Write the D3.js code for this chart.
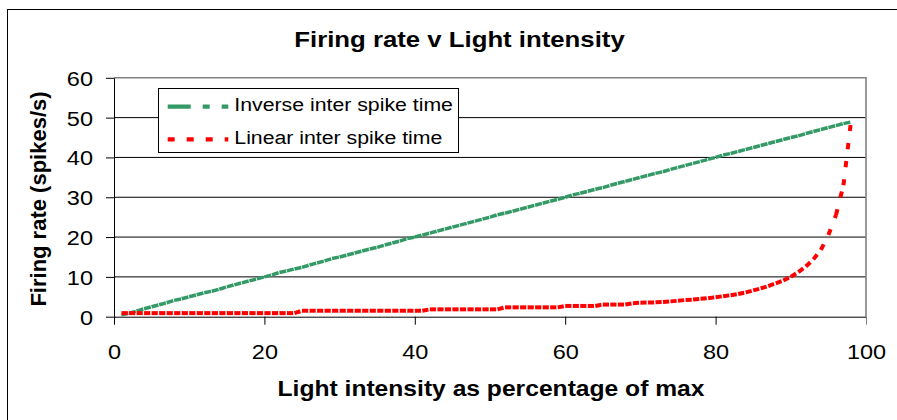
<!DOCTYPE html>
<html>
<head>
<meta charset="utf-8">
<script src="https://cdn.jsdelivr.net/npm/d3@7"></script>
<style>
  html, body { margin: 0; padding: 0; background: #fff; }
  svg { display: block; }
  text { font-family: "Liberation Sans", Arial, sans-serif; fill: #000; }
</style>
</head>
<body>
<svg id="chart" width="897" height="420"></svg>
<script>
// ---------------- data ----------------
const chartTitle = "Firing rate v Light intensity";
const xTitle = "Light intensity as percentage of max";
const yTitle = "Firing rate (spikes/s)";
const seriesNames = ["Inverse inter spike time", "Linear inter spike time"];
const xTicks = [0, 20, 40, 60, 80, 100];
const yTicks = [0, 10, 20, 30, 40, 50, 60];

const lightIntensity = [
  1,2,3,4,5,6,7,8,9,10,11,12,13,14,15,16,17,18,19,20,
  21,22,23,24,25,26,27,28,29,30,31,32,33,34,35,36,37,38,39,40,
  41,42,43,44,45,46,47,48,49,50,51,52,53,54,55,56,57,58,59,60,
  61,62,63,64,65,66,67,68,69,70,71,72,73,74,75,76,77,78,79,80,
  81,82,83,84,85,86,87,88,89,90,91,92,93,94,95,96,97,98
];
const inverseRate = [
  0.5,0.9,1.4,2.0,2.5,3.0,3.5,4.1,4.5,5.0,5.5,6.0,6.4,6.9,7.5,8.0,8.5,9.0,9.5,10.0,
  10.5,11.1,11.5,12.0,12.4,13.0,13.5,14.0,14.6,15.0,15.5,16.0,16.5,17.0,17.4,18.0,18.5,19.0,19.6,20.0,
  20.5,21.0,21.5,22.0,22.5,23.0,23.5,24.0,24.5,25.0,25.6,26.0,26.5,27.0,27.5,28.0,28.5,29.0,29.5,30.0,
  30.6,31.0,31.5,32.0,32.4,33.0,33.5,34.0,34.5,35.0,35.5,36.0,36.4,37.0,37.5,38.0,38.5,39.0,39.5,40.0,
  40.6,41.0,41.5,42.0,42.5,43.0,43.5,44.0,44.5,45.0,45.4,46.0,46.5,47.0,47.5,48.0,48.5,48.9
];
const linearRate = [
  0.9,0.9,0.9,0.9,0.9,0.9,0.9,0.9,0.9,0.9,0.9,0.9,0.9,0.9,0.9,0.9,0.9,0.9,0.9,0.9,
  0.9,0.9,0.9,0.9,1.5,1.5,1.5,1.5,1.5,1.5,1.5,1.5,1.5,1.5,1.5,1.5,1.5,1.5,1.5,1.5,
  1.5,1.85,1.85,1.85,1.85,1.85,1.85,1.85,1.85,1.85,1.85,2.35,2.35,2.35,2.35,2.35,2.35,2.35,2.35,2.7,
  2.7,2.7,2.7,2.7,3.05,3.05,3.05,3.05,3.4,3.5,3.55,3.6,3.7,3.85,4.0,4.2,4.3,4.5,4.65,4.9,
  5.15,5.4,5.7,6.1,6.6,7.1,7.7,8.4,9.1,10.0,11.2,12.6,14.4,16.8,20.5,25.5,33,49
];

// ---------------- layout ----------------
const svg = d3.select("#chart");
const plot = { left: 114, right: 866, top: 77.8, bottom: 316.7 };
const x = d3.scaleLinear().domain([0, 100]).range([plot.left, plot.right]);
const y = d3.scaleLinear().domain([0, 60]).range([plot.bottom, plot.top]);
const stretch = 1.12;
const green = "#339966", red = "#ff0000";

// outer chart border (continues past the canvas edges)
svg.append("rect").attr("x", 7.5).attr("y", 9.5).attr("width", 1000).attr("height", 600)
  .attr("fill", "#fff").attr("stroke", "#000").attr("stroke-width", 1);

function hText(txt, px, py, size, weight, anchor) {
  return svg.append("text")
    .attr("transform", `translate(${px},${py}) scale(${stretch},1)`)
    .attr("text-anchor", anchor || "middle")
    .style("font-size", size + "px").style("font-weight", weight || "normal")
    .text(txt);
}

// title
hText(chartTitle, 459.5, 47, 23, "bold");

// gridlines
svg.append("g").selectAll("line").data(yTicks.filter(v => v > 0 && v < 60)).join("line")
  .attr("x1", plot.left).attr("x2", plot.right)
  .attr("y1", d => y(d)).attr("y2", d => y(d))
  .attr("stroke", "#000").attr("stroke-width", 1);

// plot area border (top & right), gray
svg.append("path")
  .attr("d", `M${plot.left},${y(60)}H${plot.right}V${plot.bottom}`)
  .attr("fill", "none").attr("stroke", "#808080").attr("stroke-width", 1.6);

// y axis
const yAxis = svg.append("g").attr("transform", `translate(${plot.left},0)`)
  .call(d3.axisLeft(y).tickValues(yTicks).tickSize(8).tickSizeOuter(0).tickFormat(d3.format("d")));
yAxis.select(".domain").attr("stroke", "#000");
yAxis.selectAll(".tick line").attr("stroke", "#000");
yAxis.selectAll(".tick text")
  .attr("x", null).attr("dy", null)
  .attr("transform", `translate(-21,7.5) scale(${stretch},1)`)
  .style("font-size", "21px").style("font-family", "'Liberation Sans', Arial, sans-serif");

// x axis
const xAxis = svg.append("g").attr("transform", `translate(0,${plot.bottom})`)
  .call(d3.axisBottom(x).tickValues(xTicks).tickSize(8).tickSizeOuter(0).tickFormat(d3.format("d")));
xAxis.select(".domain").attr("stroke", "#000");
xAxis.selectAll(".tick line").attr("stroke", (d) => d === 100 ? "#808080" : "#000");
xAxis.selectAll(".tick text")
  .attr("y", null).attr("dy", null)
  .attr("transform", `translate(0,42.6) scale(${stretch},1)`)
  .style("font-size", "21px").style("font-family", "'Liberation Sans', Arial, sans-serif");

// axis titles
hText(xTitle, 491, 396, 22, "bold");
svg.append("text")
  .attr("transform", "translate(45.7,199) rotate(-90)")
  .attr("text-anchor", "middle")
  .style("font-size", "22px").style("font-weight", "bold")
  .text(yTitle);

// series, drawn segment by segment so the dash pattern restarts at each point
const series = [
  { name: seriesNames[0], values: inverseRate, color: green, width: 3.5, dash: "23,12,7,12,7,12", plotDash: "7,1,23" },
  { name: seriesNames[1], values: linearRate, color: red, width: 4, dash: "7,12", plotDash: "6.2,12" }
];
series.forEach(s => {
  const pts = lightIntensity.map((v, i) => [v, s.values[i]]);
  svg.append("g").selectAll("line").data(d3.pairs(pts)).join("line")
    .attr("x1", d => x(d[0][0])).attr("y1", d => y(d[0][1]))
    .attr("x2", d => x(d[1][0])).attr("y2", d => y(d[1][1]))
    .attr("stroke", s.color).attr("stroke-width", s.width)
    .attr("stroke-dasharray", s.plotDash).attr("stroke-linecap", "butt");
});

// legend
const lg = { x: 158.5, y: 88.5, w: 300, h: 64 };
svg.append("rect").attr("x", lg.x).attr("y", lg.y).attr("width", lg.w).attr("height", lg.h)
  .attr("fill", "#fff").attr("stroke", "#000").attr("stroke-width", 1);
const legendRows = [106.7, 139.3];
series.forEach((s, i) => {
  svg.append("line")
    .attr("x1", 167.7).attr("x2", 228.3)
    .attr("y1", legendRows[i]).attr("y2", legendRows[i])
    .attr("stroke", s.color).attr("stroke-width", 4.2)
    .attr("stroke-dasharray", s.dash);
  hText(s.name, 234.3, legendRows[i] + 4.2, 19, "normal", "start");
});
</script>
</body>
</html>
